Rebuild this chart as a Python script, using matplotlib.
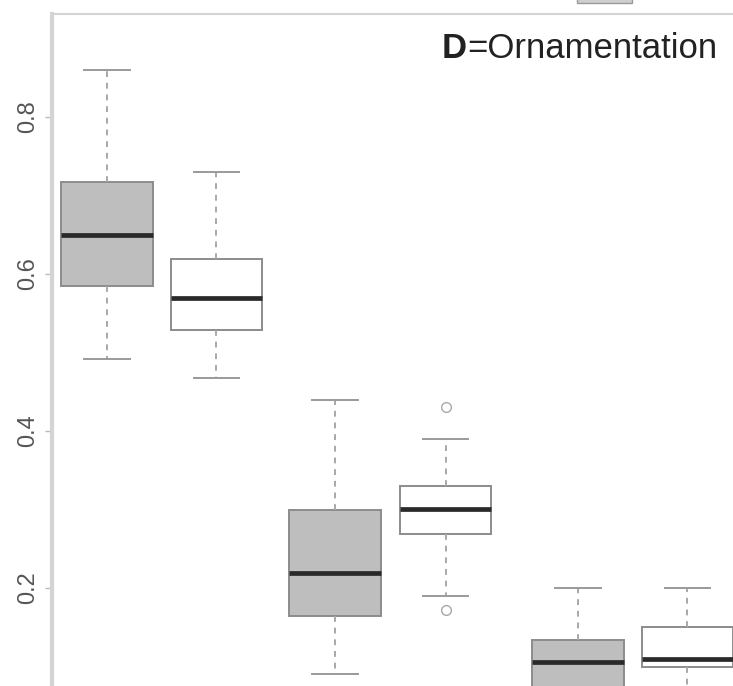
import matplotlib
matplotlib.use("Agg")
import matplotlib.pyplot as plt
from matplotlib.patches import Rectangle

plt.rcParams['font.family'] = ['Liberation Sans', 'DejaVu Sans']

# box statistics (grey = first series, white = second)
labels = ["g1", "w1", "g2", "w2", "g3", "w3"]
whislo = [0.492, 0.468, 0.090, 0.190, 0.020, 0.040]
q1 = [0.585, 0.529, 0.164, 0.269, 0.060, 0.099]
med = [0.650, 0.569, 0.219, 0.301, 0.106, 0.109]
q3 = [0.717, 0.619, 0.299, 0.330, 0.134, 0.150]
whishi = [0.860, 0.730, 0.439, 0.390, 0.200, 0.200]
fliers = [[], [], [], [0.431, 0.172], [], []]
fills = ["#bebebe", "#ffffff", "#bebebe", "#ffffff", "#bebebe", "#ffffff"]

positions = [1.0, 1.96, 3.0, 3.97, 5.13, 6.09]
yticks = [0.2, 0.4, 0.6, 0.8]


def main():
    fig = plt.figure(figsize=(7.33, 6.86), dpi=100)
    ax = fig.add_axes([52 / 733, 0.0, 1 - 52 / 733, 1 - 14 / 686])

    stats = []
    for i in range(len(labels)):
        stats.append(dict(label=labels[i], whislo=whislo[i], q1=q1[i], med=med[i],
                          q3=q3[i], whishi=whishi[i], fliers=fliers[i]))

    bp = ax.bxp(stats, positions=positions, widths=0.8, capwidths=0.4,
                patch_artist=True, showfliers=True,
                boxprops=dict(edgecolor="#8c8c8c", linewidth=1.4),
                medianprops=dict(color="#2a2a2a", linewidth=3.4, solid_capstyle="butt"),
                whiskerprops=dict(color="#a8a8a8", linewidth=1.4, linestyle=(0, (3, 3))),
                capprops=dict(color="#9a9a9a", linewidth=1.4),
                flierprops=dict(marker="o", markerfacecolor="none",
                                markeredgecolor="#a8a8a8", markersize=7))
    for patch, c in zip(bp["boxes"], fills):
        patch.set_facecolor(c)

    ax.set_xlim(0.518, 6.49)
    ax.set_ylim(0.0752, 0.931)

    ax.set_xticks([])
    ax.set_yticks(yticks)
    ax.set_yticklabels([str(t) for t in yticks], rotation=90, va="center",
                       fontsize=17, color="#555555")
    ax.tick_params(axis="y", length=5, width=1, color="#bbbbbb", pad=4)

    for side in ["right", "bottom"]:
        ax.spines[side].set_visible(False)
    ax.spines["left"].set_color("#d4d4d4")
    ax.spines["left"].set_linewidth(3)
    ax.spines["top"].set_color("#d4d4d4")
    ax.spines["top"].set_linewidth(1.5)

    # panel label, bold letter followed by plain text
    t = ax.text(717 / 733 * 1.0, 0.0, "=Ornamentation", fontsize=25, color="#222222",
                ha="right", va="baseline", transform=fig.transFigure)
    t.set_position((717 / 733, 1 - 58 / 686))
    ax.annotate("D", xy=(0, 0), xycoords=t, ha="right", va="bottom",
                fontsize=25, fontweight="bold", color="#222222")

    # bit of the legend key cut off at the top edge
    fig.patches.append(Rectangle((577 / 733, 1 - 3 / 686), 55 / 733, 10 / 686,
                                 transform=fig.transFigure, facecolor="#cfcfcf",
                                 edgecolor="#9a9a9a", linewidth=1))

    fig.savefig("out.png", dpi=100)


if __name__ == "__main__":
    main()
